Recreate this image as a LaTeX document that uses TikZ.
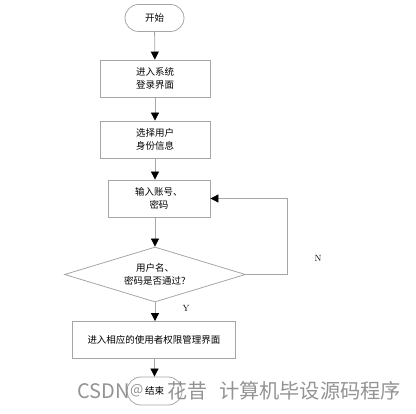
\documentclass[tikz,border=0pt]{standalone}
\usepackage{fontspec}
\newfontfamily\cjk{Noto Sans CJK SC}
\usetikzlibrary{arrows.meta,shapes.geometric,shapes.misc,calc}
\begin{document}
\begin{tikzpicture}[x=1pt,y=-1pt,
  line/.style={draw=black!35, line width=0.8pt},
  flow/.style={line, -{Triangle[length=8pt,width=8pt,color=black]}},
  procbox/.style={line, rectangle, minimum height=37pt, align=center, inner sep=0pt, font=\cjk\fontsize{9.5}{13}\selectfont},
  term/.style={line, rounded rectangle, minimum width=59pt, minimum height=27pt, inner sep=0pt, font=\cjk\fontsize{9.5}{12}\selectfont},
  lbl/.style={font=\fontsize{9}{10}\selectfont},
  wmark/.style={font=\cjk\fontsize{20}{22}\selectfont, text=black!50, opacity=0.85, anchor=west, inner sep=0pt}]
\useasboundingbox (0,0) rectangle (416,414);
\node[term] (start) at (154.5,18) {开始};
\node[procbox, minimum width=110pt] (b1) at (155,78.5) {进入系统\\登录界面};
\node[procbox, minimum width=110pt] (b2) at (155,139.5) {选择用户\\身份信息};
\node[procbox, minimum width=102pt] (b3) at (159,198.5) {输入账号、\\密码};
\node[line, diamond, aspect=3.3, minimum width=181pt, minimum height=55pt, inner sep=0pt, align=center, font=\cjk\fontsize{9.5}{13}\selectfont] (dia) at (155,274.5) {用户名、\\密码是否通过?};
\node[procbox, minimum width=163pt] (b4) at (154,340) {进入相应的使用者权限管理界面};
\node[term, minimum width=55pt, minimum height=28pt] (end) at (154.5,391) {结束};
\coordinate (loopc) at (287,274.5);
\draw[flow] (start) -- (b1);
\draw[flow] (b1) -- (b2);
\draw[flow] (b2.south) -- (b2.south |- b3.north);
\draw[flow] (dia.north |- b3.south) -- (dia.north);
\draw[flow] (dia.south) -- (dia.south |- b4.north);
\draw[flow] (b4.south -| end.north) -- (end.north);
\draw[flow] (dia.east) -- (loopc) -- (loopc |- b3.east) -- (b3.east);
\node[lbl] (nl) at (318,258) {N};
\node[lbl] (yl) at (186,308) {Y};
\node[wmark] (wm1) at (77,391) {CSDN};
\node[wmark, font=\cjk\fontsize{14}{16}\selectfont] (wm2) at (130,391) {@};
\node[wmark] (wm3) at (167,391) {花昔};
\node[wmark, font=\cjk\fontsize{20.2}{22}\selectfont] (wm4) at (219,391) {计算机毕设源码程序};
\end{tikzpicture}
\end{document}
